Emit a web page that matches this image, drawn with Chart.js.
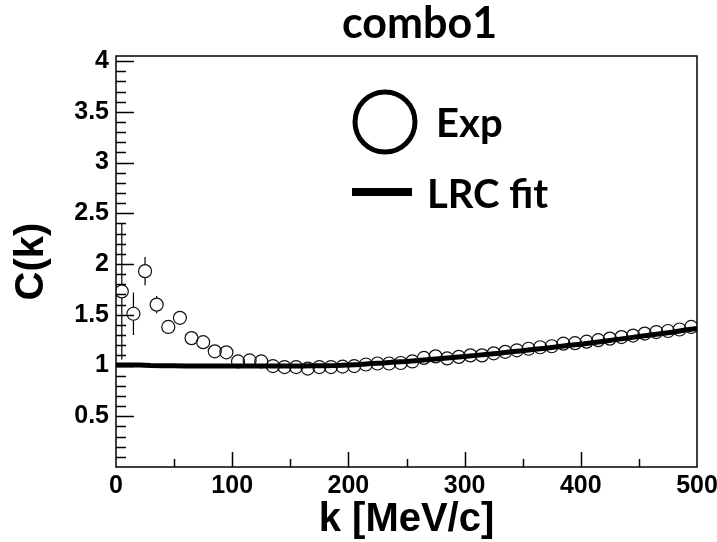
<!DOCTYPE html>
<html>
<head>
<meta charset="utf-8">
<script src="https://cdn.jsdelivr.net/npm/chart.js@4.4.0/dist/chart.umd.min.js"></script>
<style>
  html, body { margin: 0; padding: 0; background: #fff; }
  #wrap { width: 717px; height: 542px; }
</style>
</head>
<body>
<div id="wrap"><canvas id="chart" width="717" height="542"></canvas></div>
<script>
// experimental points (k in MeV/c)
const kValues = [5, 15, 25, 35, 45, 55, 65, 75, 85, 95,
  105, 115, 125, 135, 145, 155, 165, 175, 185, 195,
  205, 215, 225, 235, 245, 255, 265, 275, 285, 295,
  305, 315, 325, 335, 345, 355, 365, 375, 385, 395,
  405, 415, 425, 435, 445, 455, 465, 475, 485, 495];
const expValues = [1.73, 1.51, 1.93, 1.60, 1.38, 1.47, 1.27, 1.23, 1.14, 1.13,
  1.04, 1.05, 1.04, 0.995, 0.985, 0.985, 0.97, 0.985, 0.985, 0.99,
  0.995, 1.01, 1.02, 1.02, 1.025, 1.04, 1.075, 1.09, 1.07, 1.085,
  1.10, 1.10, 1.12, 1.135, 1.15, 1.165, 1.18, 1.19, 1.215, 1.22,
  1.235, 1.25, 1.265, 1.28, 1.295, 1.315, 1.33, 1.34, 1.355, 1.38];
const expErrors = [0.67, 0.21, 0.14, 0.085, 0.06, 0.05, 0.03, 0.03, 0.02, 0.02,
  0.02, 0.02, 0.02, 0.02, 0.02, 0.02, 0.02, 0.02, 0.02, 0.02,
  0.02, 0.02, 0.02, 0.02, 0.02, 0.02, 0.02, 0.02, 0.02, 0.02,
  0.02, 0.02, 0.02, 0.02, 0.02, 0.02, 0.02, 0.02, 0.02, 0.02,
  0.02, 0.02, 0.02, 0.02, 0.02, 0.02, 0.02, 0.02, 0.02, 0.02];

// LRC fit curve
const fitK = [0, 10, 20, 30, 40, 50, 60, 70, 80, 90,
  100, 110, 120, 130, 140, 150, 160, 170, 180, 190,
  200, 210, 220, 230, 240, 250, 260, 270, 280, 290,
  300, 310, 320, 330, 340, 350, 360, 370, 380, 390,
  400, 410, 420, 430, 440, 450, 460, 470, 480, 490, 500];
const fitValues = [1.005, 1.005, 1.005, 1.0, 0.998, 0.997, 0.996, 0.996, 0.996, 0.996,
  0.996, 0.996, 0.996, 0.996, 0.996, 0.996, 0.996, 0.997, 0.998, 1.0,
  1.005, 1.01, 1.02, 1.025, 1.035, 1.04, 1.05, 1.06, 1.07, 1.08,
  1.09, 1.10, 1.11, 1.12, 1.135, 1.145, 1.16, 1.17, 1.185, 1.2,
  1.21, 1.225, 1.24, 1.255, 1.27, 1.285, 1.3, 1.315, 1.33, 1.35, 1.365];

const xTicks = [0, 100, 200, 300, 400, 500];
const yTicks = [0.5, 1, 1.5, 2, 2.5, 3, 3.5, 4];

const markerRadius = 6.5;
const tickFont = { family: 'Liberation Sans', weight: 'bold', size: 25 };

// error bars, drawn outside the open marker like ROOT does
const errorBars = {
  id: 'errorBars',
  beforeDatasetsDraw(chart) {
    const { ctx, scales: { x, y } } = chart;
    ctx.save();
    ctx.strokeStyle = '#000';
    ctx.lineWidth = 1.2;
    kValues.forEach((k, i) => {
      const px = x.getPixelForValue(k);
      const py = y.getPixelForValue(expValues[i]);
      const top = y.getPixelForValue(expValues[i] + expErrors[i]);
      const bot = y.getPixelForValue(expValues[i] - expErrors[i]);
      ctx.beginPath();
      if (top < py - markerRadius) { ctx.moveTo(px, top); ctx.lineTo(px, py - markerRadius); }
      if (bot > py + markerRadius) { ctx.moveTo(px, py + markerRadius); ctx.lineTo(px, bot); }
      ctx.stroke();
    });
    ctx.restore();
  }
};

// frame with inward ticks, title and legend
const rootFrame = {
  id: 'rootFrame',
  afterDraw(chart) {
    const { ctx, chartArea: a, scales: { x, y } } = chart;
    ctx.save();
    ctx.strokeStyle = '#000';
    ctx.lineWidth = 1.5;
    ctx.strokeRect(a.left, a.top, a.right - a.left, a.bottom - a.top);

    ctx.beginPath();
    for (let i = 1; i <= 40; i++) {
      const py = Math.round(y.getPixelForValue(i / 10)) + 0.5;
      const len = i % 5 === 0 ? 18 : 10;
      ctx.moveTo(a.left, py);
      ctx.lineTo(a.left + len, py);
    }
    for (let v = 50; v < 500; v += 50) {
      const px = Math.round(x.getPixelForValue(v)) + 0.5;
      const len = v % 100 === 0 ? 15 : 8;
      ctx.moveTo(px, a.bottom);
      ctx.lineTo(px, a.bottom - len);
    }
    ctx.stroke();

    // title
    ctx.fillStyle = '#000';
    ctx.textBaseline = 'alphabetic';
    ctx.textAlign = 'left';
    ctx.font = 'bold 43px Lato';
    ctx.fillText('combo1', 342, 38);

    // legend
    ctx.lineWidth = 5;
    ctx.beginPath();
    ctx.arc(385, 122, 30, 0, Math.PI * 2);
    ctx.stroke();
    ctx.font = 'bold 40px Lato';
    ctx.fillText('Exp', 436, 137);
    ctx.lineWidth = 8;
    ctx.beginPath();
    ctx.moveTo(352, 192);
    ctx.lineTo(412, 192);
    ctx.stroke();
    ctx.fillText('LRC fit', 427, 208);
    ctx.restore();
  }
};

const ctx = document.getElementById('chart').getContext('2d');
new Chart(ctx, {
  type: 'scatter',
  data: {
    datasets: [
      {
        label: 'LRC fit',
        data: fitK.map((k, i) => ({ x: k, y: fitValues[i] })),
        showLine: true,
        borderColor: '#000',
        borderWidth: 5,
        pointRadius: 0,
        tension: 0,
        order: 0
      },
      {
        label: 'Exp',
        data: kValues.map((k, i) => ({ x: k, y: expValues[i] })),
        pointStyle: 'circle',
        pointRadius: markerRadius,
        borderColor: '#111',
        borderWidth: 1.2,
        backgroundColor: 'rgba(0,0,0,0)',
        order: 1
      }
    ]
  },
  options: {
    responsive: false,
    animation: false,
    layout: { padding: { top: 56, right: 20, left: 0, bottom: 0 } },
    plugins: { legend: { display: false }, tooltip: { enabled: false } },
    scales: {
      x: {
        type: 'linear',
        min: 0,
        max: 500,
        afterBuildTicks: s => { s.ticks = xTicks.map(v => ({ value: v })); },
        afterFit: s => { s.height = 75; s.paddingLeft = 0; s.paddingRight = 0; },
        grid: { display: false, drawTicks: false },
        border: { display: false },
        ticks: { font: tickFont, color: '#000', padding: 4, maxRotation: 0, autoSkip: false, callback: v => String(v) },
        title: {
          display: true,
          text: 'k [MeV/c]',
          color: '#000',
          font: { family: 'Liberation Sans', weight: 'bold', size: 40, lineHeight: 1.1 },
          padding: { top: 0, bottom: 0 }
        }
      },
      y: {
        type: 'linear',
        min: 0,
        max: 4.05,
        afterBuildTicks: s => { s.ticks = yTicks.map(v => ({ value: v })); },
        afterFit: s => { s.width = 116; s.paddingTop = 0; s.paddingBottom = 0; },
        grid: { display: false, drawTicks: false },
        border: { display: false },
        ticks: { font: tickFont, color: '#000', padding: 7, autoSkip: false, callback: v => String(v) },
        title: {
          display: true,
          text: 'C(k)',
          color: '#000',
          font: { family: 'Liberation Sans', weight: 'bold', size: 40, lineHeight: 1.2 },
          padding: { top: 8, bottom: 0 }
        }
      }
    }
  },
  plugins: [errorBars, rootFrame]
});
</script>
</body>
</html>
